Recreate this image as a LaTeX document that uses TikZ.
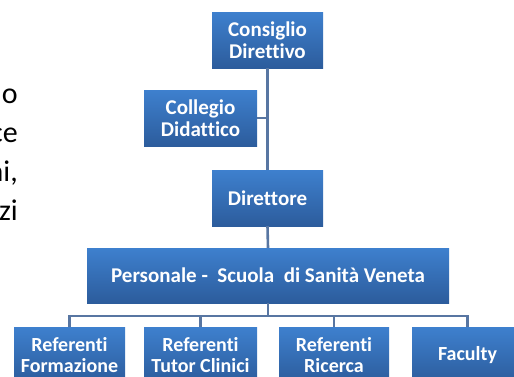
\documentclass[tikz,border=0pt]{standalone}
\usepackage{fontspec}
\setmainfont{Carlito}[Ligatures={NoCommon}]
\definecolor{boxtop}{RGB}{62,128,206}
\definecolor{boxbot}{RGB}{44,92,156}
\definecolor{connc}{RGB}{88,118,162}
\begin{document}
\begin{tikzpicture}[x=1pt,y=-1pt,
  box/.style={rectangle, inner sep=0pt, minimum width=#1, minimum height=56pt,
    top color=boxtop, bottom color=boxbot, text=white, align=center,
    font=\bfseries\fontsize{21}{22}\selectfont},
  box/.default=111pt,
  conn/.style={draw=connc, line width=2.6pt},
  lefttxt/.style={inner sep=0pt, font=\fontsize{30}{36}\selectfont, text=black}]
\useasboundingbox (0,0) rectangle (514,376);
\clip (0,0) rectangle (514,376);
% nodes
\node[box] (cd) at (267.5,40) {Consiglio\\Direttivo};
\node[box=113pt] (cod) at (200.5,118) {Collegio\\Didattico};
\node[box] (dir) at (267.5,198) {Direttore};
\node[box=362pt, minimum height=55pt] (pers) at (268,275.5) {Personale -\ \ Scuola\ \ di Sanità Veneta};
\node[box, font=\bfseries\fontsize{20}{21}\selectfont] (r1) at (69.5,355) {Referenti\\Formazione};
\node[box=113pt, font=\bfseries\fontsize{20}{21}\selectfont] (r2) at (200.5,355) {Referenti\\Tutor Clinici};
\node[box=110pt, font=\bfseries\fontsize{20}{21}\selectfont] (r3) at (334,355) {Referenti\\Ricerca};
\node[box, font=\bfseries\fontsize{20}{21}\selectfont] (r4) at (467.5,355) {Faculty};
\coordinate (bus) at (268,316);
% connectors
\draw[conn] (cd.south) -- (dir.north);
\draw[conn] (cod.east) -- (cod.east -| cd.south);
\draw[conn] (dir.south) -- (pers.north);
\draw[conn] (pers.south) -- (bus);
\draw[conn] (r1.north) -- (r1.north |- bus) -- (r4.north |- bus) -- (r4.north);
\draw[conn] (r2.north) -- (r2.north |- bus);
\draw[conn] (r3.north) -- (r3.north |- bus);
% left cut-off text
\node[lefttxt, anchor=base east] (t1) at (18,103) {o};
\node[lefttxt, anchor=base east] (t2) at (18,142) {ce};
\node[lefttxt, anchor=base east] (t3) at (18,181) {ni,};
\node[lefttxt, anchor=base east] (t4) at (18,220) {zi};
\end{tikzpicture}
\end{document}
